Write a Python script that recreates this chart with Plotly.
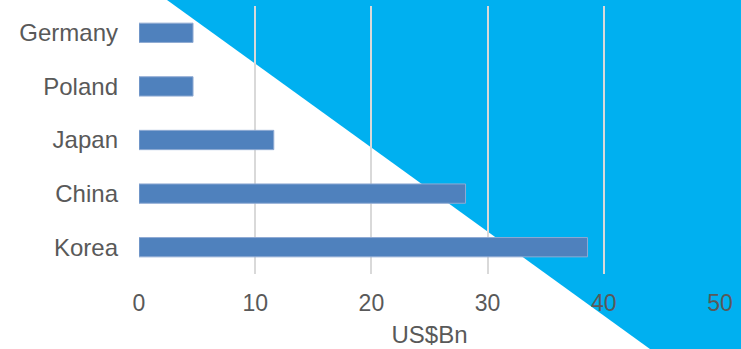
import plotly.graph_objects as go

# Export values by country, US$ billions
countries = ["Korea", "China", "Japan", "Poland", "Germany"]
values_bn = [38.6, 28.1, 11.6, 4.65, 4.65]
x_ticks = [0, 10, 20, 30, 40, 50]
x_title = "US$Bn"

TEXT = "#595959"
BAR = "#4F81BD"
ACCENT = "#00B0F0"
FONT = "Liberation Sans, Arial, sans-serif"

fig = go.Figure(
    go.Bar(
        x=values_bn,
        y=countries,
        orientation="h",
        width=0.36,
        marker=dict(color=BAR, line=dict(color="#8FAAD3", width=1)),
        hoverinfo="x+y",
    )
)

# Diagonal accent band behind the grid
fig.add_shape(
    type="path",
    xref="paper",
    yref="paper",
    path="M 0.0482 1.0224 L 1.0361 1.0224 L 1.0361 -0.2799 L 0.8795 -0.2799 Z",
    fillcolor=ACCENT,
    line=dict(width=0),
    layer="below",
)

fig.update_layout(
    width=741,
    height=349,
    margin=dict(l=139, r=21, t=6, b=75),
    paper_bgcolor="white",
    plot_bgcolor="rgba(0,0,0,0)",
    showlegend=False,
    font=dict(family=FONT, color=TEXT, size=24),
    bargap=0.64,
)
fig.update_xaxes(
    range=[0, 50],
    tickvals=x_ticks,
    showgrid=True,
    gridcolor="#D9D9D9",
    gridwidth=2,
    zeroline=False,
    showline=False,
    ticks="",
    ticklabelstandoff=13,
    tickfont=dict(size=23, color=TEXT),
    title=dict(text=x_title, font=dict(size=24, color=TEXT), standoff=11),
)
fig.update_yaxes(
    categoryorder="array",
    categoryarray=countries,
    showgrid=False,
    showline=False,
    ticks="",
    ticklabelstandoff=20,
    tickfont=dict(size=24, color=TEXT),
)

fig.write_html("out.html")
